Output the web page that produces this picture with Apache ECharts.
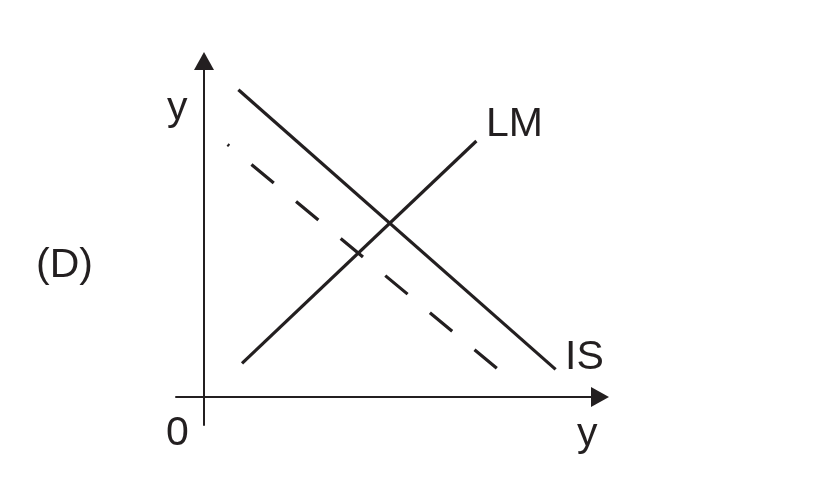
<!DOCTYPE html>
<html>
<head>
<meta charset="utf-8">
<script src="https://cdn.jsdelivr.net/npm/echarts@6/dist/echarts.min.js"></script>
<style>
html,body{margin:0;padding:0;background:#fff;}
#c{width:813px;height:501px;}
</style>
</head>
<body>
<div id="c"></div>
<script>
// Data (units: 1 unit along each axis, origin at axes crossing)
const isCurve = [[0.86, 7.68], [8.79, 0.69]];
const isShifted = [[0.59, 6.31], [7.33, 0.71]];
const lmCurve = [[0.95, 0.84], [6.81, 6.40]];
const xRange = [-0.7, 9.9];
const yRange = [-0.7, 8.4];
const labels = { panel: '(D)', origin: '0', xName: 'y', yName: 'y', lm: 'LM', is: 'IS' };

const ink = '#231f20';
const font = '"Liberation Sans", Arial, sans-serif';

const chart = echarts.init(document.getElementById('c'), null, { renderer: 'canvas' });

function txt(text, x, y) {
  return { type: 'text', x: x, y: y, style: { text: text, fill: ink, font: '41px ' + font, textAlign: 'left', textVerticalAlign: 'middle' } };
}

chart.setOption({
  animation: false,
  backgroundColor: '#fff',
  grid: { left: 176, right: 213, top: 61, bottom: 76 },
  xAxis: {
    type: 'value', min: xRange[0], max: xRange[1],
    axisLine: { show: true, onZero: true, symbol: ['none', 'triangle'], symbolSize: [20, 18], lineStyle: { color: ink, width: 2 } },
    axisTick: { show: false }, axisLabel: { show: false }, splitLine: { show: false }
  },
  yAxis: {
    type: 'value', min: yRange[0], max: yRange[1],
    axisLine: { show: true, onZero: true, symbol: ['none', 'triangle'], symbolSize: [20, 18], lineStyle: { color: ink, width: 2 } },
    axisTick: { show: false }, axisLabel: { show: false }, splitLine: { show: false }
  },
  series: [
    { name: 'IS', type: 'line', data: isCurve, showSymbol: false, symbol: 'none', lineStyle: { color: ink, width: 3.2 } },
    { name: "IS'", type: 'line', data: isShifted, showSymbol: false, symbol: 'none', lineStyle: { color: ink, width: 3.2, type: [29, 29], dashOffset: 27 } },
    { name: 'LM', type: 'line', data: lmCurve, showSymbol: false, symbol: 'none', lineStyle: { color: ink, width: 3.2 } }
  ],
  graphic: [
    txt(labels.panel, 36, 266),
    txt(labels.yName, 167, 109),
    txt(labels.origin, 166, 434),
    txt(labels.xName, 577, 435),
    txt(labels.lm, 486, 125),
    txt(labels.is, 565, 358)
  ]
});
</script>
</body>
</html>
